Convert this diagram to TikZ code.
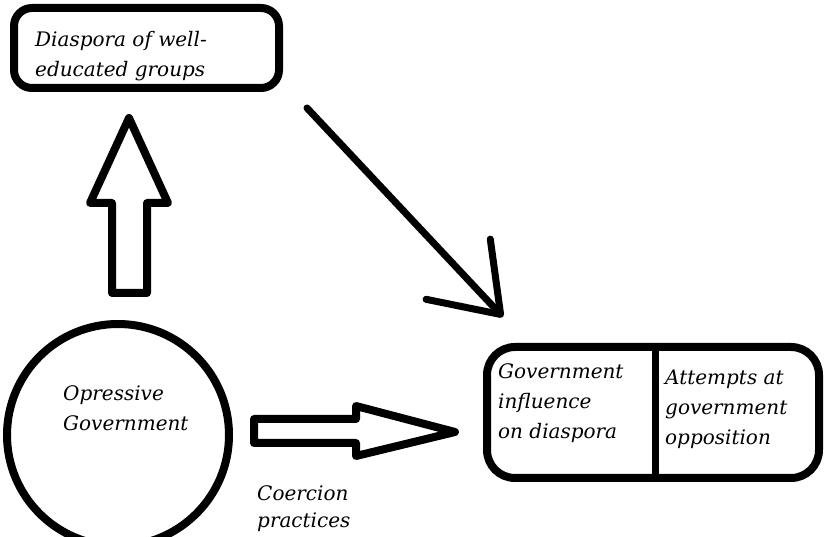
\documentclass[tikz,border=0pt]{standalone}
\usepackage{fontspec}
\setmainfont{DejaVu Serif}
\usetikzlibrary{arrows.meta, positioning}

\newcommand{\lblfont}{\itshape\fontsize{20}{30}\selectfont}

\begin{document}
\begin{tikzpicture}[
    x=1pt, y=1pt,
    roundbox/.style={draw, line width=8pt, rounded corners=18pt},
    lbl/.style={font=\lblfont, align=left, inner sep=0pt, anchor=north west},
    blockarrow/.style={draw, line width=8pt, line join=round, fill=white},
    linearrow/.style={line width=7pt, line cap=round, -{Straight Barb[round, length=62pt, width=88pt]}}
]
\useasboundingbox (0,0) rectangle (828,536);

% Nodes
\node[roundbox, minimum width=265, minimum height=80] (diaspora) at (146.5,488) {};
\node[draw, circle, line width=8pt, minimum size=222] (govt) at (118,101) {};
\node[roundbox, rounded corners=28pt, minimum width=332, minimum height=131] (result) at (653,123.5) {};
\draw[line width=7pt] ([xshift=2pt]result.north) -- ([xshift=2pt]result.south);

% Labels
\node[lbl] (diasporatxt) at (35,505) {Diaspora of well-\\educated groups};
\node[lbl] (govttxt) at (63,151) {Opressive\\Government};
\node[lbl] (influencetxt) at (498,173) {Government\\influence\\on diaspora};
\node[lbl] (oppositiontxt) at (665,166) {Attempts at\\government\\opposition};
\node[lbl, font=\itshape\fontsize{20}{27}\selectfont] (coerciontxt) at (257,51) {Coercion\\practices};

% Block arrows
\coordinate (upbase) at (129.5,243);
\coordinate (rightbase) at (254,105);
\draw[blockarrow] (upbase) ++(-17.5,0) -- ++(0,90) -- ++(-22,0) -- (129,418)
    -- (168,333) -- ++(-21,0) -- ++(0,-90) -- cycle;
\draw[blockarrow] (rightbase) ++(0,12) -- ++(102,0) -- ++(0,13) -- (455,104)
    -- (356,80) -- ++(0,13) -- ++(-102,0) -- cycle;

% Line arrow
\coordinate (dstart) at (307,428);
\coordinate (dtip) at (503,219);
\draw[linearrow] (dstart) -- (dtip);

\end{tikzpicture}
\end{document}
